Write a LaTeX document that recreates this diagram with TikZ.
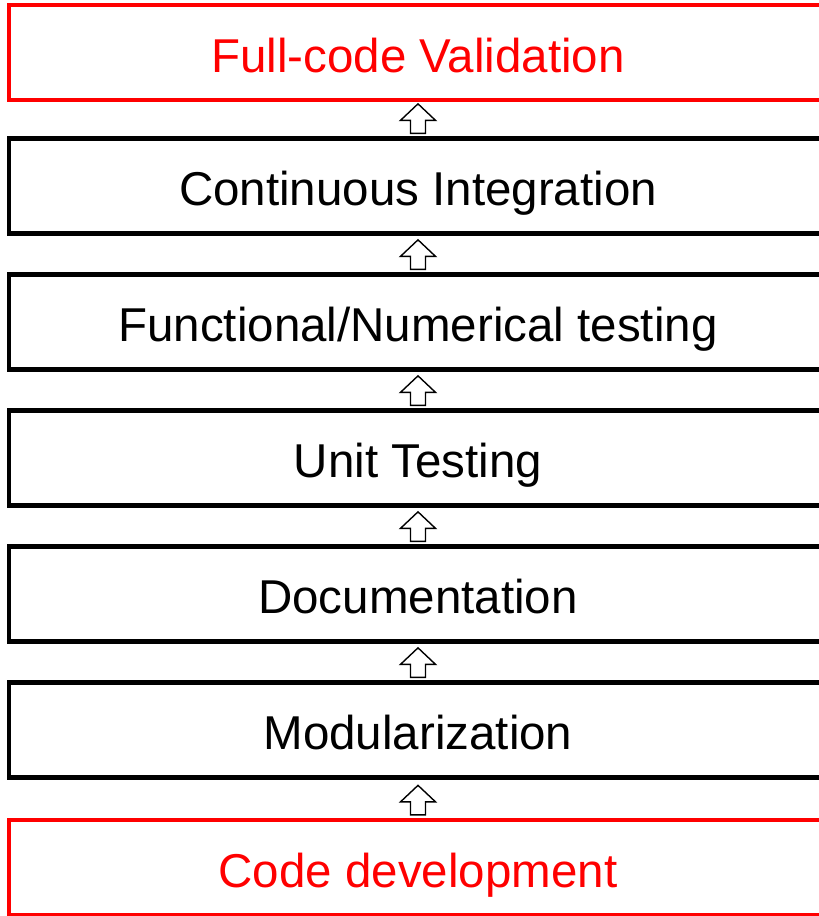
\documentclass[tikz,border=0pt]{standalone}
\usepackage{fontspec}
\setmainfont{Liberation Sans}
\usetikzlibrary{calc}
\definecolor{stepred}{RGB}{255,0,0}
\tikzset{
  stagebox/.style={draw=black, line width=4.7pt, rectangle, minimum width=818pt,
    minimum height=95pt, inner sep=0pt, anchor=center,
    text height=39pt, text depth=0pt,
    font=\fontsize{47.5}{57}\selectfont, text=black},
  endbox/.style={stagebox, draw=stepred, text=stepred},
  uparrowshape/.style={draw=black, fill=white, line width=1.4pt, line join=miter},
}
% hollow block arrow pointing up, standing on the top edge of a box
\newcommand{\uparrowfrom}[1]{%
  \draw[uparrowshape] ([shift={(-7.5pt,2.8pt)}]#1.north) -- ++(0pt,13pt) -- ++(-10pt,0pt)
    -- ++(17.5pt,16.5pt) -- ++(17.5pt,-16.5pt) -- ++(-10pt,0pt) -- ++(0pt,-13pt) -- cycle;}
\begin{document}
\begin{tikzpicture}
\clip (0pt,0pt) rectangle (819pt,-916pt);
\fill[white] (0pt,0pt) rectangle (819pt,-916pt);
\node[endbox]   (validation) at (418pt,-52.5pt) {Full-code Validation};
\node[stagebox] (ci)         at (418pt,-186pt)  {Continuous Integration};
\node[stagebox] (functional) at (418pt,-322pt)  {Functional/Numerical testing};
\node[stagebox] (unit)       at (418pt,-458pt)  {Unit Testing};
\node[stagebox] (docs)       at (418pt,-594pt)  {Documentation};
\node[stagebox] (modular)    at (418pt,-730pt)  {Modularization};
\node[endbox]   (codedev)    at (418pt,-867.5pt) {Code development};
\uparrowfrom{ci}
\uparrowfrom{functional}
\uparrowfrom{unit}
\uparrowfrom{docs}
\uparrowfrom{modular}
\uparrowfrom{codedev}
\end{tikzpicture}
\end{document}
